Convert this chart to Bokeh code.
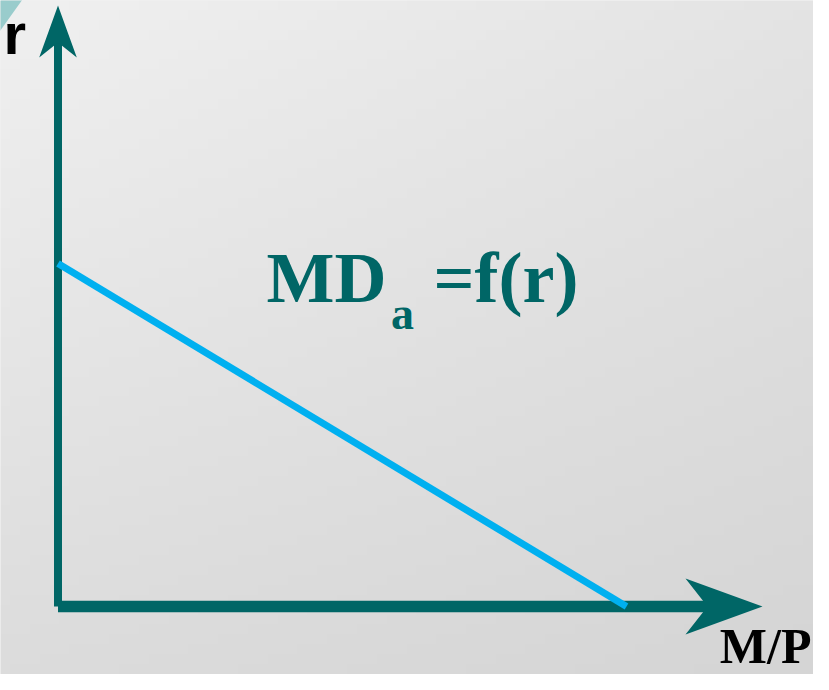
import numpy as np
from bokeh.plotting import figure
from bokeh.models import Range1d
from bokeh.core.properties import value
from bokeh.embed import file_html
from bokeh.resources import INLINE

# ---- data (diagram units) ----
MP_AXIS_END = 70.45          # end of the M/P axis (arrow tip)
R_AXIS_END = 60.1            # end of the r axis (arrow tip)
md_mp = [0.0, 56.85]         # money demand line: M/P values
md_r = [34.3, 0.0]           # money demand line: r values
axis_label_r = "r"
axis_label_mp = "M/P"
curve_main = "MD"
curve_sub = "a"
curve_rest = "=f(r)"

TEAL = "#006666"
BLUE = "#00b0f0"

W, H = 813, 674
p = figure(width=W, height=H, output_backend="svg", toolbar_location=None,
           x_range=Range1d(-5.75, 75.55), y_range=Range1d(-6.8, 60.6),
           min_border=0, background_fill_color="#e3e3e3")
p.xaxis.visible = False
p.yaxis.visible = False
p.grid.visible = False
p.outline_line_color = None
p.border_fill_color = "#e3e3e3"

# ---- background gradient (style) ----
ny, nx = 68, 82
u = np.linspace(0, 1, nx)[None, :]
v = np.linspace(0, 1, ny)[:, None]   # 0 = bottom, 1 = top
tl, tr, bl, br = 240, 228, 220, 213
g = (bl * (1 - u) * (1 - v) + br * u * (1 - v) + tl * (1 - u) * v + tr * u * v)
g = g.astype(np.uint32)
img = (255 << 24) | (g << 16) | (g << 8) | g
p.image_rgba(image=[img.astype(np.uint32)], x=-5.75, y=-6.8, dw=81.3, dh=67.4)

# corner decoration
p.patch([-6.55, -3.05, -6.55], [61.4, 61.4, 56.5], fill_color="#99cccc", line_color=None)

# ---- axes with stealth arrowheads ----
yh_len, yh_half, yh_notch = 5.2, 1.88, 3.7
xh_len, xh_half, xh_notch = 7.7, 2.8, 5.5

p.segment(x0=[0], y0=[0], x1=[0], y1=[R_AXIS_END - yh_notch + 0.3],
          line_color=TEAL, line_width=8, line_cap="butt")
p.segment(x0=[0], y0=[0], x1=[MP_AXIS_END - xh_notch + 0.3], y1=[0],
          line_color=TEAL, line_width=11.5, line_cap="butt")

p.patch([0, yh_half, 0, -yh_half],
        [R_AXIS_END, R_AXIS_END - yh_len, R_AXIS_END - yh_notch, R_AXIS_END - yh_len],
        fill_color=TEAL, line_color=None)
p.patch([MP_AXIS_END, MP_AXIS_END - xh_len, MP_AXIS_END - xh_notch, MP_AXIS_END - xh_len],
        [0, xh_half, 0, -xh_half],
        fill_color=TEAL, line_color=None)

# ---- money demand line ----
p.line(md_mp, md_r, line_color=BLUE, line_width=7, line_cap="butt")

# ---- texts ----
serif = value("Liberation Serif")
p.text(x=[20.85], y=[32.9], text=[curve_main], text_font=serif, text_font_style="bold",
       text_font_size=value("72px"), text_color=TEAL, text_baseline="alphabetic", text_align="left")
p.text(x=[33.3], y=[29.3], text=[curve_sub], text_font=serif, text_font_style="bold",
       text_font_size=value("46px"), text_color=TEAL, text_baseline="alphabetic", text_align="left")
p.text(x=[37.55], y=[32.9], text=[curve_rest], text_font=serif, text_font_style="bold",
       text_font_size=value("72px"), text_color=TEAL, text_baseline="alphabetic", text_align="left")

p.text(x=[-5.45], y=[57.35], text=[axis_label_r], text_font=value("Liberation Sans"),
       text_font_style="bold", text_font_size=value("58px"), text_color="black",
       text_baseline="alphabetic", text_align="left")
p.text(x=[75.35], y=[-3.9], text=[axis_label_mp], text_font=serif, text_font_style="bold",
       text_font_size=value("50px"), text_color="black", text_baseline="alphabetic", text_align="right")

open("out.html", "w").write(file_html(p, INLINE))
